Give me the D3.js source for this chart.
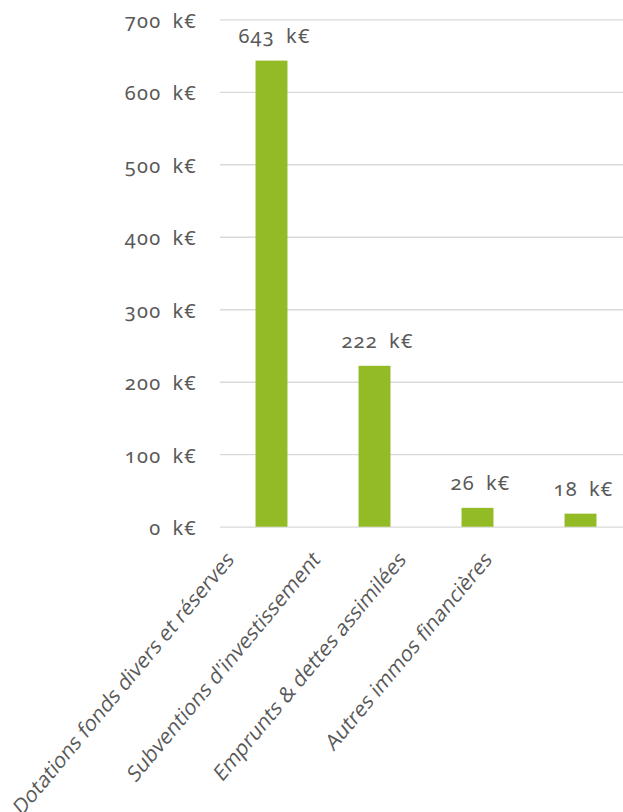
<!DOCTYPE html>
<html>
<head>
<meta charset="utf-8">
<script src="https://cdn.jsdelivr.net/npm/d3@7"></script>
<style>
  html, body { margin: 0; padding: 0; background: #fff; }
  svg { display: block; }
  .num { font-family: "Noto Sans", sans-serif; font-variant-numeric: oldstyle-nums; font-feature-settings: "onum" 1; fill: #595959; }
  .cat { font-family: "Open Sans", sans-serif; fill: #595959; }
</style>
</head>
<body>
<svg id="chart" width="623" height="812"></svg>
<script>
// Emplois / ressources, en milliers d'euros
const categories = [
  "Dotations fonds divers et réserves",
  "Subventions d'investissement",
  "Emprunts & dettes assimilées",
  "Autres immos financières"
];
const values = [643, 222, 26, 18];
const yTicks = [0, 100, 200, 300, 400, 500, 600, 700];
const unit = "k€";

const W = 623, H = 812;
const plot = { left: 220, right: 632, top: 19.3, bottom: 526.7 };
const barColor = "#92BB25";
const gridColor = "#D9D9D9";
const catStretch = 1.2;   // slanted labels are drawn a little steeper than 45°

const svg = d3.select("#chart");

const x = d3.scaleBand()
  .domain(categories)
  .range([plot.left, plot.right])
  .paddingInner(0.69)
  .paddingOuter(0.345);

const y = d3.scaleLinear()
  .domain([0, 700])
  .range([plot.bottom, plot.top]);

// anchors for the slanted category labels
const labelX = d3.scalePoint()
  .domain(categories)
  .range([235, 493]);

const fmt = v => `${v}\u2002${unit}`;

// horizontal gridlines + value axis
const yAxis = d3.axisLeft(y)
  .tickValues(yTicks)
  .tickSize(-(W - plot.left))
  .tickPadding(23)
  .tickFormat(fmt);

const gy = svg.append("g")
  .attr("transform", `translate(${plot.left},0)`)
  .call(yAxis);
gy.select(".domain").remove();
gy.selectAll(".tick line")
  .attr("stroke", gridColor)
  .attr("stroke-width", 1.3);
gy.selectAll(".tick text")
  .attr("class", "num")
  .attr("font-size", 20)
  .attr("letter-spacing", 1.2)
  .attr("dy", null)
  .attr("y", 8)
  .attr("fill", "#595959");

// bars
svg.append("g")
  .selectAll("rect")
  .data(values)
  .join("rect")
  .attr("x", (d, i) => x(categories[i]))
  .attr("y", d => y(d))
  .attr("width", x.bandwidth())
  .attr("height", d => y(0) - y(d))
  .attr("fill", barColor);

// value labels
svg.append("g")
  .selectAll("text")
  .data(values)
  .join("text")
  .attr("class", "num")
  .attr("text-anchor", "middle")
  .attr("font-size", 20)
  .attr("letter-spacing", 1.2)
  .attr("x", (d, i) => x(categories[i]) + x.bandwidth() / 2 + 3)
  .attr("y", d => y(d) - 17.5)
  .text(fmt);

// category labels, slanted
svg.append("g")
  .selectAll("text")
  .data(categories)
  .join("text")
  .attr("class", "cat")
  .attr("font-size", 19)
  .attr("text-anchor", "end")
  .attr("transform", d =>
    `translate(${labelX(d)},${plot.bottom + 34}) scale(1,${catStretch}) rotate(-45)`)
  .text(d => d);
</script>
</body>
</html>
